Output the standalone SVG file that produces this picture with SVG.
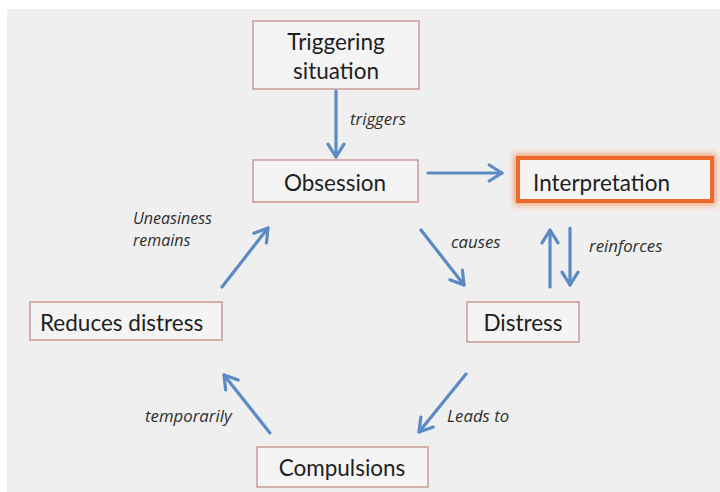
<svg xmlns="http://www.w3.org/2000/svg" width="720" height="492" viewBox="0 0 720 492">
<defs>
<style>
.box{fill:#f4f4f4;stroke:#c99a98;stroke-width:1.5}
.t{font-family:Lato,"Open Sans","Liberation Sans",sans-serif;font-size:22.5px;fill:#1e1e1e;text-anchor:middle}
.l{font-family:"Open Sans",Lato,"Liberation Sans",sans-serif;font-size:16.8px;font-style:italic;fill:#2e2e2e}
.c{stroke:#5b8ac4;stroke-width:3.2;fill:none;stroke-linecap:round}
</style>
<marker id="ah" viewBox="0 0 12 12" refX="10" refY="6" markerWidth="6" markerHeight="6" orient="auto" markerUnits="strokeWidth">
<path d="M2,1 L10,6 L2,11" fill="none" stroke="#5b8ac4" stroke-width="2" stroke-linecap="round" stroke-linejoin="round"/>
</marker>
<filter id="glow" x="-20%" y="-50%" width="140%" height="200%">
<feGaussianBlur stdDeviation="3"/>
</filter>
</defs>
<rect x="0" y="0" width="720" height="492" fill="#ffffff"/>
<rect x="7" y="9" width="713" height="483" fill="#efefef"/>

<g id="triggering">
<rect class="box" x="253" y="21" width="166" height="68"/>
<text class="t" x="336" y="50">Triggering</text>
<text class="t" x="336" y="79">situation</text>
</g>
<g id="obsession">
<rect class="box" x="253" y="160" width="165" height="42"/>
<text class="t" x="335" y="191">Obsession</text>
</g>
<g id="interpretation">
<rect x="518" y="158" width="194" height="43" fill="none" stroke="#f58a4c" stroke-width="8" filter="url(#glow)" opacity="0.8"/>
<rect x="518" y="158" width="194" height="43" fill="#f4f4f4" stroke="#ec6a2c" stroke-width="4"/>
<text class="t" x="533" y="191" style="text-anchor:start">Interpretation</text>
</g>
<g id="distress">
<rect class="box" x="467" y="302" width="112" height="40"/>
<text class="t" x="523" y="331">Distress</text>
</g>
<g id="reduces">
<rect class="box" x="30" y="302" width="192" height="38"/>
<text class="t" x="40" y="331" style="text-anchor:start">Reduces distress</text>
</g>
<g id="compulsions">
<rect class="box" x="257" y="447" width="171" height="40"/>
<text class="t" x="342" y="476">Compulsions</text>
</g>

<g id="connectors">
<line class="c" x1="336" y1="91" x2="336" y2="157" marker-end="url(#ah)"/>
<line class="c" x1="428" y1="173" x2="502" y2="173" marker-end="url(#ah)"/>
<line class="c" x1="421" y1="230" x2="464" y2="285" marker-end="url(#ah)"/>
<line class="c" x1="550" y1="287" x2="550" y2="230" marker-end="url(#ah)"/>
<line class="c" x1="570" y1="228" x2="570" y2="285" marker-end="url(#ah)"/>
<line class="c" x1="466" y1="374" x2="419" y2="432" marker-end="url(#ah)"/>
<line class="c" x1="270" y1="433" x2="224" y2="375" marker-end="url(#ah)"/>
<line class="c" x1="222" y1="287" x2="268" y2="228" marker-end="url(#ah)"/>
</g>

<g id="labels">
<text class="l" x="350" y="125">triggers</text>
<text class="l" x="451" y="248">causes</text>
<text class="l" x="589" y="252">reinforces</text>
<text class="l" x="447" y="422">Leads to</text>
<text class="l" x="145" y="422">temporarily</text>
<text class="l" x="133" y="224" style="font-size:16px">Uneasiness</text>
<text class="l" x="133" y="246" style="font-size:16px">remains</text>
</g>
</svg>
